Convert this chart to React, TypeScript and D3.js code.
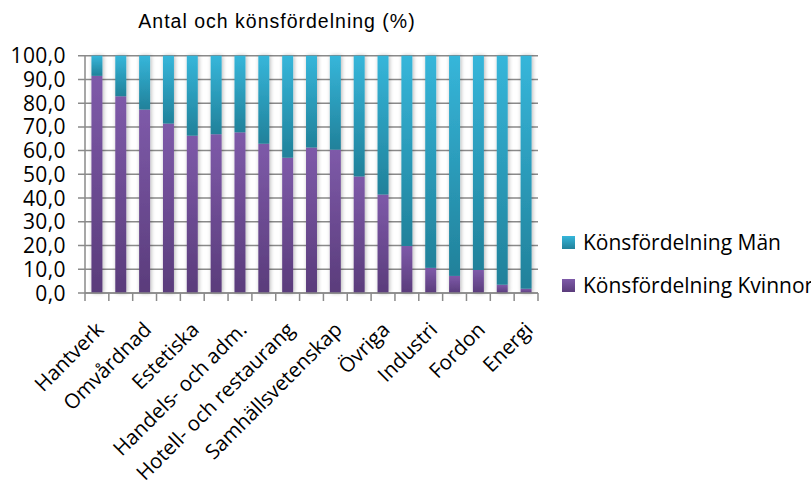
import React from "react";
import * as d3 from "d3";

const categories = [
  "Hantverk", "Barn- och fritid", "Omvårdnad", "Humanistiska", "Estetiska",
  "Ekonomi", "Handels- och adm.", "Naturvetenskap", "Hotell- och restaurang",
  "Livsmedel", "Samhällsvetenskap", "Naturbruk", "Övriga", "Teknik",
  "Industri", "Bygg", "Fordon", "El", "Energi",
];
const kvinnor = [91.5, 82.9, 77.3, 71.4, 66.3, 66.9, 67.7, 62.9, 57.0, 61.3, 60.4, 49.1, 41.5, 19.8, 10.6, 7.2, 9.7, 3.5, 1.8];
const man = kvinnor.map((v) => 100 - v);
const yTicks = [0, 10, 20, 30, 40, 50, 60, 70, 80, 90, 100];
const seriesNames = ["Könsfördelning Män", "Könsfördelning Kvinnor"];
const title = "Antal och könsfördelning (%)";

export default function App() {
  const W = 811, H = 482;
  const left = 85, right = 538, top = 55.7, bottom = 293;
  const x = d3.scaleBand<string>().domain(categories).range([left, right]).paddingInner(0.54).paddingOuter(0.27);
  const y = d3.scaleLinear().domain([0, 100]).range([bottom, top]);
  const step = x.step();
  const bw = x.bandwidth();
  const font = "'Open Sans', sans-serif";

  return (
    <div style={{ position: "absolute", left: 0, top: 0 }}>
      <svg width={W} height={H} style={{ display: "block" }}>
        <defs>
          <linearGradient id="gM" x1="0" y1="0" x2="0" y2="1">
            <stop offset="0" stopColor="#36b6da" />
            <stop offset="1" stopColor="#21819a" />
          </linearGradient>
          <linearGradient id="gK" x1="0" y1="0" x2="0" y2="1">
            <stop offset="0" stopColor="#7e5aa9" />
            <stop offset="1" stopColor="#5a3c7b" />
          </linearGradient>
          <filter id="sh" x="-80%" y="-10%" width="260%" height="120%">
            <feGaussianBlur in="SourceAlpha" stdDeviation="2.2" />
            <feOffset dx="0.5" dy="0" result="b" />
            <feComponentTransfer><feFuncA type="linear" slope="0.3" /></feComponentTransfer>
            <feMerge><feMergeNode /><feMergeNode in="SourceGraphic" /></feMerge>
          </filter>
        </defs>
        <rect width={W} height={H} fill="#fff" />
        <text x={277} y={28} textAnchor="middle" fontFamily="'Liberation Sans', Arial, sans-serif" fontSize={19.5} letterSpacing={1} fill="#000">{title}</text>
        {/* gridlines */}
        {yTicks.map((t) => (
          <line key={t} x1={left - 7} x2={right} y1={y(t)} y2={y(t)} stroke="#8a8a8a" strokeWidth={1.5} />
        ))}
        {yTicks.map((t) => (
          <text key={"l" + t} x={66} y={y(t)} dy="0.36em" textAnchor="end" fontFamily={font} fontSize={21} letterSpacing={0.4} fill="#000">
            {d3.format(".1f")(t).replace(".", ",")}
          </text>
        ))}
        <line x1={left} x2={left} y1={top} y2={bottom} stroke="#8a8a8a" strokeWidth={1.5} />
        {/* bars */}
        <g filter="url(#sh)">
          {categories.map((c, i) => (
            <g key={c}>
              <rect x={x(c)} y={y(kvinnor[i])} width={bw} height={y(0) - y(kvinnor[i])} fill="url(#gK)" />
              <rect x={x(c)} y={y(kvinnor[i] + man[i])} width={bw} height={y(kvinnor[i]) - y(kvinnor[i] + man[i])} fill="url(#gM)" />
            </g>
          ))}
        </g>
        {/* x axis */}
        <line x1={left} x2={right} y1={bottom} y2={bottom} stroke="#8a8a8a" strokeWidth={1.5} />
        {d3.range(categories.length + 1).map((i) => (
          <line key={"t" + i} x1={left + i * step} x2={left + i * step} y1={bottom} y2={bottom + 8} stroke="#8a8a8a" strokeWidth={1.5} />
        ))}
        {categories.map((c, i) =>
          i % 2 === 0 ? (
            <text key={"x" + c} transform={`translate(${(x(c) as number) + bw / 2 + 8},${bottom + 38}) rotate(-45)`} textAnchor="end" fontFamily={font} fontSize={20.5} fill="#000">
              {c}
            </text>
          ) : null
        )}
        {/* legend */}
        {seriesNames.map((s, i) => (
          <g key={s} transform={`translate(562,${236 + i * 43})`}>
            <rect width={13} height={13} fill={i === 0 ? "url(#gM)" : "url(#gK)"} />
            <text x={21} y={6.5} dy="0.36em" fontFamily={font} fontSize={21} fill="#000">{s}</text>
          </g>
        ))}
      </svg>
    </div>
  );
}
